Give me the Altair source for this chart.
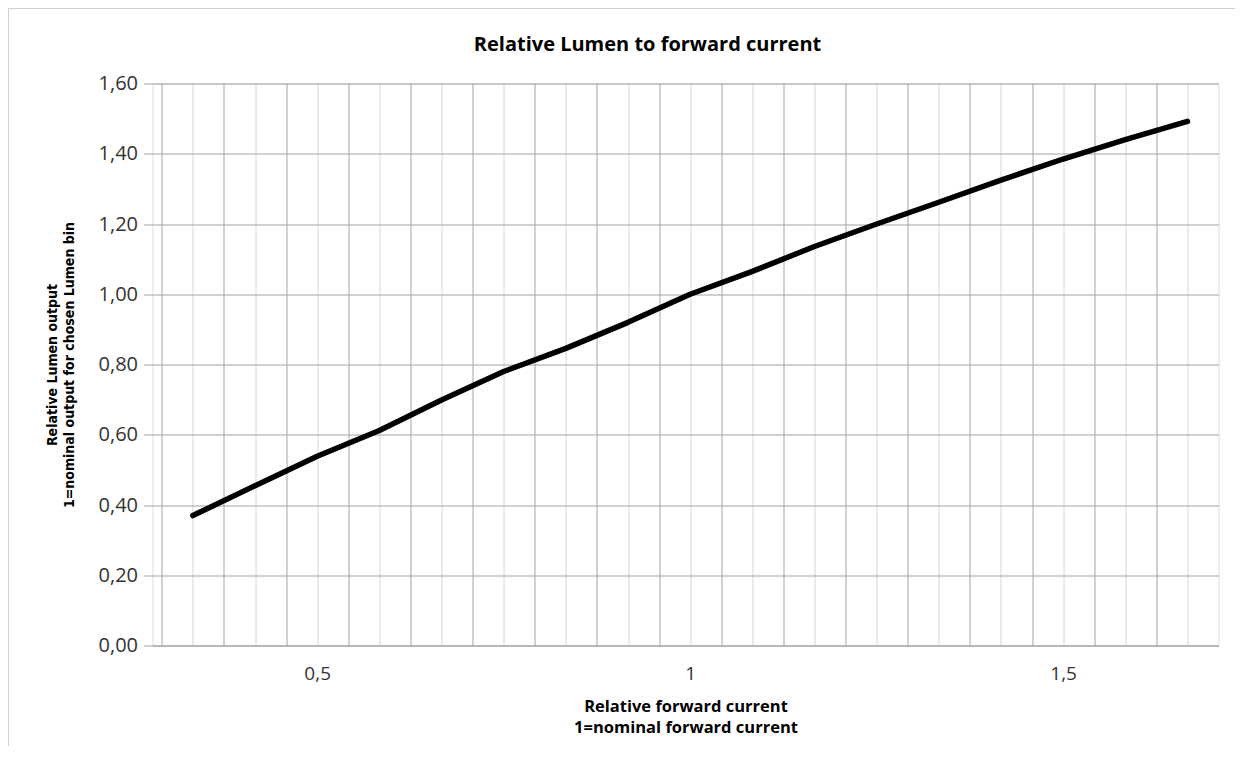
import altair as alt
import pandas as pd

# Data
forward_current = [4/12, 5/12, 6/12, 7/12, 8/12, 9/12, 10/12, 11/12, 1.0,
                   13/12, 14/12, 15/12, 16/12, 17/12, 18/12, 19/12, 20/12]
lumen_output = [0.37, 0.455, 0.539, 0.612, 0.699, 0.780, 0.846, 0.920, 1.00,
                1.065, 1.136, 1.20, 1.262, 1.325, 1.385, 1.44, 1.492]

x_grid_values = [round(n / 24, 6) for n in range(7, 42)]
y_tick_values = [0.0, 0.2, 0.4, 0.6, 0.8, 1.0, 1.2, 1.4, 1.6]

df = pd.DataFrame({"x": forward_current, "y": lumen_output})

FONT = "Open Sans"
NARROW = "DejaVu Sans Condensed, Liberation Sans, sans-serif"

x_axis = alt.Axis(
    values=x_grid_values,
    grid=True,
    gridColor={"condition": {"test": "round(datum.value*24) % 2 == 1", "value": "#a3a3a3"},
               "value": "#d6d6d6"},
    gridWidth=1,
    ticks=False,
    domain=True,
    domainColor="#a6a6a6",
    labelExpr="abs(datum.value*2 - round(datum.value*2)) < 0.001 ? replace(format(datum.value, '~g'), '.', ',') : ''",
    labelOverlap=False,
    labelFont=FONT,
    labelFontSize=19,
    labelColor="#333333",
    labelPadding=19,
    title=["Relative forward current", "1=nominal forward current"],
    titleFont=FONT,
    titleFontSize=16.5,
    titleFontWeight="bold",
    titleColor="#000000",
    titleLineHeight=21,
    titlePadding=15,
)

y_axis = alt.Axis(
    values=y_tick_values,
    grid=True,
    gridColor="#a3a3a3",
    ticks=True,
    tickColor="#a3a3a3",
    tickSize=9,
    domain=False,
    labelExpr="replace(format(datum.value, '.2f'), '.', ',')",
    labelFont=FONT,
    labelFontSize=20,
    labelColor="#333333",
    labelPadding=6,
    title=["Relative Lumen  output", "1=nominal output for chosen Lumen bin"],
    titleFont=NARROW,
    titleFontSize=14,
    titleFontWeight="bold",
    titleColor="#000000",
    titleLineHeight=17,
    titlePadding=22,
)

line = alt.Chart(df).mark_line(
    color="#000000", strokeWidth=5.5, strokeCap="round", strokeJoin="round"
).encode(
    x=alt.X("x:Q", scale=alt.Scale(domain=[0.2792, 1.7083], nice=False, zero=False), axis=x_axis),
    y=alt.Y("y:Q", scale=alt.Scale(domain=[0, 1.6], nice=False), axis=y_axis),
)

frame_left = alt.Chart(df).mark_rule(color="#d0d0d0", strokeWidth=1, clip=False).encode(
    x=alt.value(-144), y=alt.value(-75), y2=alt.value(668)
)
frame_top = alt.Chart(df).mark_rule(color="#d0d0d0", strokeWidth=1, clip=False).encode(
    x=alt.value(-144), x2=alt.value(1090), y=alt.value(-75)
)

chart = alt.layer(frame_left, frame_top, line).properties(
    width=1066,
    height=562,
    title=alt.TitleParams(
        "Relative Lumen to forward current",
        font=FONT,
        fontSize=20,
        fontWeight="bold",
        color="#000000",
        offset=-47,
        dx=-38,
    ),
    autosize=alt.AutoSizeParams(type="none"),
    padding={"left": 144.5, "top": 75.5, "right": 16, "bottom": 100},
).configure_view(stroke=None).configure(background="#ffffff")

chart.save("out.html", embed_options={"renderer": "svg", "actions": False})
